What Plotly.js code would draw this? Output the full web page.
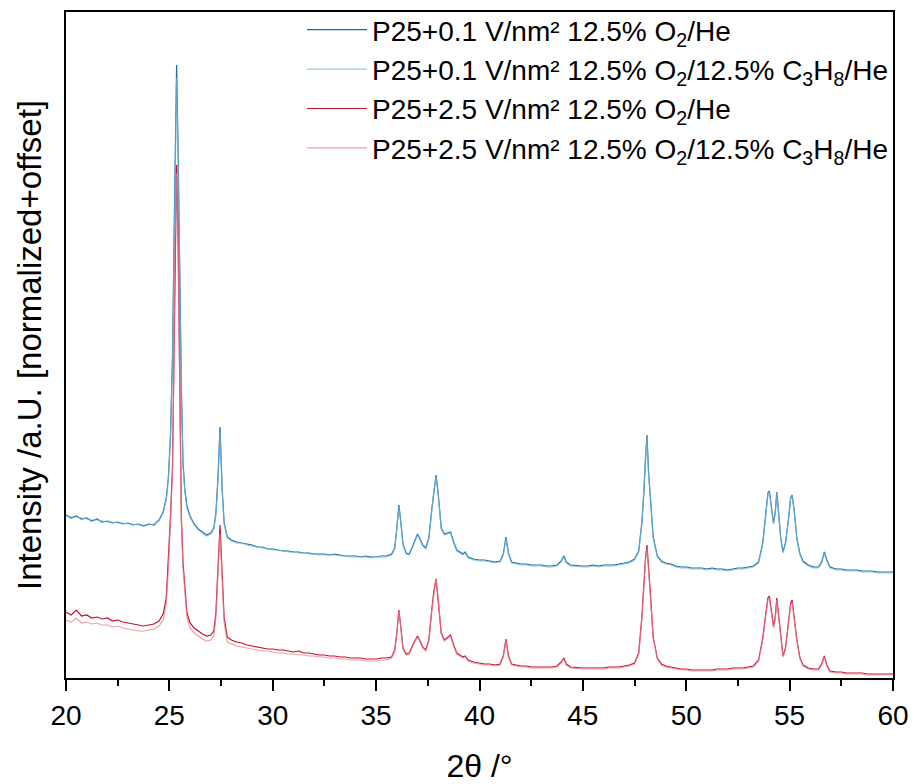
<!DOCTYPE html>
<html>
<head>
<meta charset="utf-8">
<script src="https://cdn.plot.ly/plotly-3.0.1.min.js"></script>
<style>html,body{margin:0;padding:0;background:#fff;}#chart{width:914px;height:784px;}</style>
</head>
<body>
<div id="chart"></div>
<script>
// 2θ positions (degrees)
const twoTheta = [
  20,20.25,20.5,20.75,21,21.25,21.5,21.75,22,22.25,22.5,22.75,23,23.25,23.5,23.75,24,24.25,24.5,
  24.7,24.85,24.95,25.05,25.15,25.22,25.28,25.35,25.42,25.5,25.58,25.66,25.75,25.85,26,26.2,26.4,26.6,26.8,27,27.15,27.25,27.35,27.45,27.55,27.65,27.8,28,
  28.25,28.5,28.75,29,29.25,29.5,29.75,30,30.25,30.5,30.75,31,31.25,31.5,31.75,32,32.25,32.5,32.75,33,33.25,33.5,33.75,34,34.25,34.5,34.75,35,35.25,35.5,
  35.75,35.9,36,36.1,36.2,36.3,36.45,36.6,36.75,36.9,37,37.1,37.25,37.4,37.55,37.7,37.8,37.9,38,38.15,38.3,38.45,38.6,38.75,38.9,39.05,39.2,39.3,39.45,39.7,
  40,40.25,40.5,40.75,41,41.15,41.28,41.4,41.55,41.75,42,42.25,42.5,42.75,43,43.25,43.5,43.75,43.95,44.08,44.2,44.4,44.75,45,45.25,45.5,45.75,46,46.25,46.5,46.75,47,47.25,47.5,
  47.7,47.85,47.95,48.03,48.1,48.18,48.28,48.4,48.6,48.8,49,49.25,49.5,49.75,50,50.25,50.5,50.75,51,51.25,51.5,51.75,52,52.25,52.5,52.75,53,53.25,53.5,
  53.7,53.85,53.95,54.02,54.12,54.22,54.3,54.38,54.47,54.57,54.68,54.8,54.95,55.05,55.12,55.22,55.35,55.5,55.65,55.9,56.15,56.4,56.55,56.68,56.8,56.95,57.25,57.5,57.75,58,58.25,58.5,58.75,59,59.25,59.5,59.75,60
];

// Intensities (normalized + offset, arbitrary units)
const p25_01V_O2 = [
  163,160,162,159,160,157,159,156,157,155,156,154,155,153,154,152,154,153,158,
  166,180,200,240,320,430,540,613,530,400,290,215,188,172,162,154,149,146,143,145,150,165,200,251,190,155,141,138,
  136,135,134,133,131,131,129,129,128,127,127,126,126,125,125,124,124,124,123,124,123,122,122,122,121,122,121,121,122,122,
  124,130,150,173,155,134,125,124,131,140,144,140,133,130,140,170,190,203,185,150,144,145,146,136,128,126,124,126,121,119,
  118,118,117,116,117,124,141,125,116,115,114,114,113,113,113,112,112,113,117,122,116,113,112,112,112,113,112,113,113,113,114,115,116,119,
  127,155,185,220,243,205,180,141,122,117,115,114,112,111,111,110,110,110,109,110,109,109,108,109,110,110,111,112,116,
  135,165,185,187,170,155,165,186,165,140,126,135,160,180,183,168,140,124,117,113,111,111,116,126,118,111,109,109,108,108,108,107,107,107,106,106,106,106
];
const p25_01V_O2_C3H8 = [
  162,161,161,160,159,158,158,157,156,156,155,155,154,154,153,153,153,154,157,
  165,178,198,238,318,425,530,600,525,398,288,212,186,170,161,153,148,145,142,144,149,163,198,246,188,154,140,137,
  135,135,133,132,131,130,129,128,128,127,126,126,125,125,124,124,123,123,123,123,122,122,121,121,121,121,120,121,121,121,
  123,129,149,171,154,133,124,123,130,139,143,139,132,129,139,169,189,201,184,149,143,144,145,135,127,125,123,125,120,118,
  117,117,116,115,116,123,139,124,115,114,113,113,112,112,112,111,111,112,116,121,115,112,111,111,111,112,111,112,112,112,113,114,115,118,
  126,154,184,218,240,203,178,140,121,116,114,113,111,110,110,109,109,109,108,109,108,108,107,108,109,109,110,111,115,
  134,164,184,186,169,154,164,185,164,139,125,134,159,179,182,167,139,123,116,112,110,110,115,125,117,110,108,108,107,107,107,106,106,106,105,105,105,105
];
const p25_25V_O2 = [
  66,63,68,62,63,60,61,59,60,57,58,56,55,54,53,52,53,54,57,
  64,80,115,160,210,330,450,513,440,300,160,115,88,65,55,50,47,44,42,43,47,65,110,153,105,60,41,38,
  36,35,33,32,31,30,29,29,28,28,27,26,27,25,25,24,23,23,22,22,21,21,20,20,20,19,19,19,20,20,
  21,28,45,68,50,30,24,25,32,39,42,38,31,28,38,70,88,99,80,45,38,41,43,33,25,23,21,22,18,16,
  15,14,14,13,14,22,39,22,14,13,12,12,11,11,11,11,11,12,16,20,14,11,10,10,10,10,10,10,11,11,11,12,13,15,
  25,60,95,120,133,112,80,41,20,14,12,11,10,9,9,8,8,8,8,8,9,9,9,10,10,10,11,12,18,
  40,65,80,82,65,52,60,80,62,40,22,30,60,75,78,62,38,20,13,10,9,9,14,22,13,7,6,6,5,5,5,5,4,4,4,4,4,4
];
const p25_25V_O2_C3H8 = [
  58,56,60,55,56,54,55,53,53,51,52,50,49,48,47,47,48,49,52,
  58,74,108,155,205,320,440,505,435,295,155,110,82,60,50,45,42,39,37,38,42,60,105,145,100,55,36,34,
  32,31,30,29,28,27,27,26,25,25,24,24,23,23,22,22,21,21,20,20,19,19,18,18,18,17,17,17,18,18,
  20,27,44,67,49,29,23,24,31,38,41,37,30,27,37,69,88,100,80,44,37,40,42,32,24,22,20,21,17,15,
  14,13,13,12,13,21,38,21,13,12,11,11,10,10,10,10,10,11,15,19,13,10,9,9,9,9,9,9,10,10,10,11,12,14,
  24,58,93,118,130,110,78,40,19,13,11,10,9,8,8,7,7,7,7,7,8,8,8,9,9,9,10,11,17,
  38,63,78,80,63,50,58,78,60,38,21,29,58,73,76,60,37,19,12,9,8,8,13,21,12,6,5,5,4,4,4,4,3,3,3,3,3,3
];

const seriesNames = [
  'P25+0.1 V/nm² 12.5% O<sub>2</sub>/He',
  'P25+0.1 V/nm² 12.5% O<sub>2</sub>/12.5% C<sub>3</sub>H<sub>8</sub>/He',
  'P25+2.5 V/nm² 12.5% O<sub>2</sub>/He',
  'P25+2.5 V/nm² 12.5% O<sub>2</sub>/12.5% C<sub>3</sub>H<sub>8</sub>/He'
];
const seriesValues = [p25_01V_O2, p25_01V_O2_C3H8, p25_25V_O2, p25_25V_O2_C3H8];
const seriesColors = ['rgb(20,110,162)', 'rgba(120,182,218,0.75)', 'rgb(192,18,46)', 'rgba(235,125,145,0.75)'];

const traces = seriesValues.map((vals, i) => ({
  x: twoTheta, y: vals, type: 'scatter', mode: 'lines',
  name: seriesNames[i], legendgroup: 'g' + i,
  line: {color: seriesColors[i], width: 1.2}
}));

const font = 'Liberation Sans, Arial, sans-serif';
const layout = {
  width: 914, height: 784,
  margin: {l: 66, r: 21, t: 12, b: 106, autoexpand: false},
  paper_bgcolor: '#fff', plot_bgcolor: '#fff',
  font: {family: font, color: '#000'},
  showlegend: true,
  legend: {x: 1, xanchor: 'right', yref: 'container', y: 0.9936, yanchor: 'top', bgcolor: 'rgba(0,0,0,0)',
           font: {family: font, size: 28, color: '#000'}, tracegroupgap: 0, itemwidth: 60},
  xaxis: {
    range: [20, 60], tick0: 20, dtick: 5, ticks: 'outside', ticklen: 11, tickwidth: 2,
    tickcolor: '#000', showline: true, linewidth: 2, linecolor: '#000', mirror: true,
    showgrid: false, zeroline: false, tickfont: {family: font, size: 28, color: '#000'},
    minor: {dtick: 2.5, ticks: 'outside', ticklen: 6, tickwidth: 2, tickcolor: '#000', showgrid: false},
    title: {text: '2θ /°', font: {family: font, size: 32, color: '#000'}, standoff: 26}
  },
  yaxis: {
    range: [0, 666], showticklabels: false, ticks: '', showline: true, linewidth: 2,
    linecolor: '#000', mirror: true, showgrid: false, zeroline: false,
    title: {text: 'Intensity /a.U. [normalized+offset]', font: {family: font, size: 33, color: '#000'}, standoff: 12}
  }
};

Plotly.newPlot('chart', traces, layout, {displayModeBar: false, staticPlot: true});
</script>
</body>
</html>
